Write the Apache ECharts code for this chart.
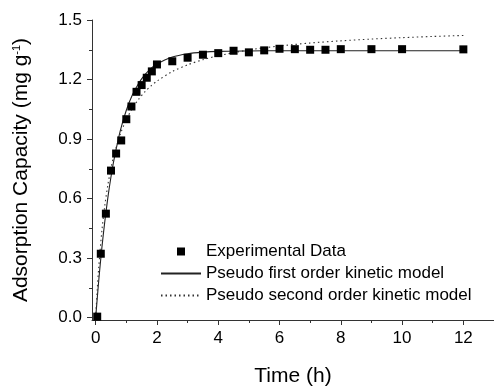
<!DOCTYPE html>
<html>
<head>
<meta charset="utf-8">
<script src="https://cdn.jsdelivr.net/npm/echarts@6/dist/echarts.min.js"></script>
<style>html,body{margin:0;padding:0;background:#fff}#c{width:494px;height:392px}</style>
</head>
<body>
<div id="c"></div>
<script>
// Experimental data
var expT = [0.05, 0.167, 0.333, 0.5, 0.667, 0.833, 1, 1.167, 1.333, 1.5, 1.667, 1.833, 2, 2.5, 3, 3.5, 4, 4.5, 5, 5.5, 6, 6.5, 7, 7.5, 8, 9, 10, 12];
var expQ = [0.005, 0.322, 0.524, 0.741, 0.827, 0.893, 1.0, 1.064, 1.138, 1.172, 1.209, 1.241, 1.276, 1.292, 1.31, 1.325, 1.333, 1.345, 1.337, 1.347, 1.355, 1.353, 1.35, 1.35, 1.353, 1.353, 1.353, 1.352];
// Pseudo first order model curve
var pfoT = [0, 0.1, 0.2, 0.3, 0.4, 0.5, 0.6, 0.8, 1.0, 1.2, 1.4, 1.6, 1.8, 2.0, 2.5, 3, 3.5, 4, 5, 6, 8, 10, 12];
var pfoQ = [0, 0.187, 0.349, 0.487, 0.607, 0.710, 0.798, 0.940, 1.045, 1.123, 1.180, 1.223, 1.255, 1.278, 1.313, 1.330, 1.338, 1.342, 1.344, 1.345, 1.345, 1.345, 1.345];
// Pseudo second order model curve
var psoT = [0, 0.05, 0.1, 0.2, 0.3, 0.4, 0.5, 0.6, 0.8, 1.0, 1.2, 1.4, 1.6, 1.8, 2.0, 2.5, 3, 3.5, 4, 5, 6, 7, 8, 9, 10, 11, 12];
var psoQ = [0, 0.139, 0.254, 0.434, 0.567, 0.671, 0.753, 0.820, 0.923, 0.998, 1.055, 1.100, 1.137, 1.167, 1.192, 1.240, 1.274, 1.300, 1.320, 1.349, 1.369, 1.384, 1.395, 1.404, 1.411, 1.417, 1.422];
// Ticks
var xMajor = [0, 2, 4, 6, 8, 10, 12];
var xMinor = [1, 3, 5, 7, 9, 11];
var yMajor = [0, 0.3, 0.6, 0.9, 1.2, 1.5];
var yMinor = [0.15, 0.45, 0.75, 1.05, 1.35];
var seriesNames = ['Experimental Data', 'Pseudo first order kinetic model', 'Pseudo second order kinetic model'];

function zip(a, b) { return a.map(function (v, i) { return [v, b[i]]; }); }

var FONT = "'Liberation Sans', Arial, sans-serif";
var AX = '#333';
var chart = echarts.init(document.getElementById('c'), null, {renderer: 'canvas'});
var xBase = {min: -0.12, max: 13, type: 'value', splitLine: {show: false}};
var yBase = {min: -0.012, max: 1.5, type: 'value', splitLine: {show: false}};
chart.setOption({
  animation: false,
  backgroundColor: '#fff',
  grid: {left: 92, top: 20, width: 404, height: 306.7, containLabel: false},
  legend: {
    orient: 'vertical', left: 155, top: 238, itemWidth: 40, itemHeight: 10, itemGap: 5,
    textStyle: {fontFamily: FONT, fontSize: 17, color: '#000'},
    data: seriesNames
  },
  xAxis: [
    Object.assign({}, xBase, {
      name: 'Time (h)', nameLocation: 'middle', nameGap: 46,
      nameTextStyle: {fontFamily: FONT, fontSize: 21, color: '#000'},
      axisLine: {show: true, onZero: false, lineStyle: {color: AX, width: 1}},
      axisTick: {show: true, length: 5, customValues: xMajor, lineStyle: {color: AX}},
      axisLabel: {customValues: xMajor, margin: 10, fontFamily: FONT, fontSize: 17, color: '#000'}
    }),
    Object.assign({}, xBase, {
      position: 'bottom',
      axisLine: {show: false, onZero: false},
      axisTick: {show: true, length: 3, customValues: xMinor, lineStyle: {color: AX}},
      axisLabel: {show: false}
    })
  ],
  yAxis: [
    Object.assign({}, yBase, {
      name: 'Adsorption Capacity (mg g{sup|-1})', nameLocation: 'middle', nameGap: 60, nameRotate: 90,
      nameTextStyle: {fontFamily: FONT, fontSize: 21, color: '#000',
        rich: {sup: {fontFamily: FONT, fontSize: 11, color: '#000', verticalAlign: 'top'}}},
      axisLine: {show: true, onZero: false, lineStyle: {color: AX, width: 1}},
      axisTick: {show: true, length: 5, customValues: yMajor, lineStyle: {color: AX}},
      axisLabel: {customValues: yMajor, margin: 10, fontFamily: FONT, fontSize: 17, color: '#000',
        formatter: function (v) { return v.toFixed(1); }}
    }),
    Object.assign({}, yBase, {
      position: 'left',
      axisLine: {show: false, onZero: false},
      axisTick: {show: true, length: 3, customValues: yMinor, lineStyle: {color: AX}},
      axisLabel: {show: false}
    })
  ],
  series: [
    {
      name: seriesNames[0], type: 'line', data: zip(expT, expQ),
      symbol: 'rect', symbolSize: 8, showAllSymbol: true,
      lineStyle: {width: 0, opacity: 0}, itemStyle: {color: '#000'}, z: 5
    },
    {
      name: seriesNames[1], type: 'line', data: zip(pfoT, pfoQ), smooth: 0.3,
      symbol: 'none', lineStyle: {width: 1.1, color: '#222', type: 'solid'}, itemStyle: {color: '#222', opacity: 0}
    },
    {
      name: seriesNames[2], type: 'line', data: zip(psoT, psoQ), smooth: 0.3,
      symbol: 'none', lineStyle: {width: 1.1, color: '#333', type: [1.5, 3]}, itemStyle: {color: '#333', opacity: 0}
    }
  ]
});
</script>
</body>
</html>
